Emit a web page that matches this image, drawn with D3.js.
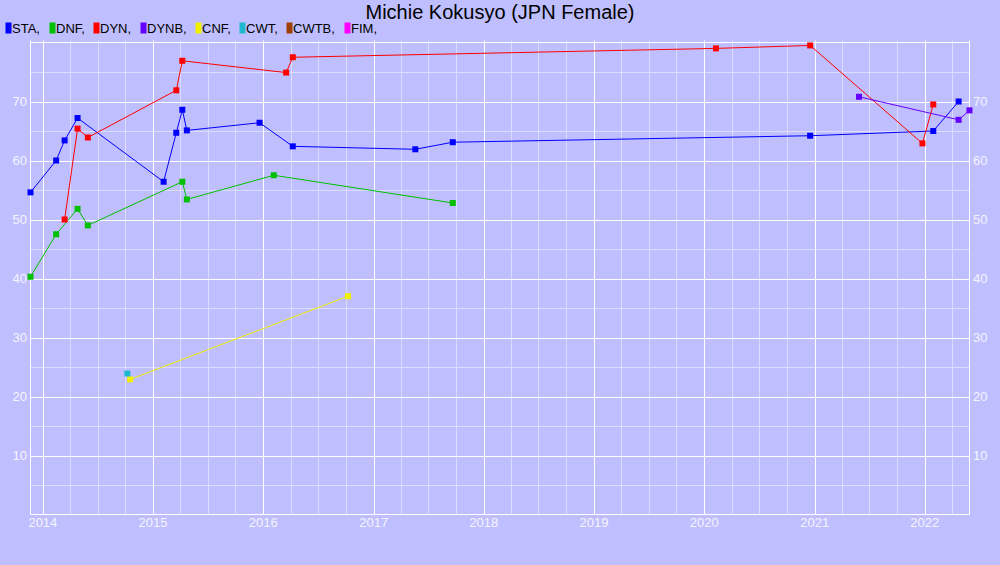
<!DOCTYPE html>
<html><head><meta charset="utf-8">
<script src="https://cdn.jsdelivr.net/npm/d3@7"></script>
<style>body{margin:0;background:#bfbfff;}svg{display:block;font-family:"Liberation Sans",Arial,sans-serif;}</style>
</head><body><svg id="c" width="1000" height="565"></svg>
<script>
const title = "Michie Kokusyo (JPN Female)";
const legendNames = ["STA","DNF","DYN","DYNB","CNF","CWT","CWTB","FIM"];
const legendColors = ["#0000ff","#00c000","#ff0000","#6600ff","#f0f000","#20b8d0","#a04000","#ff00ff"];
const yTicks = [10,20,30,40,50,60,70];

const STA = [["2013-11-21",54.6],["2014-02-14",60.0],["2014-03-14",63.4],["2014-04-26",67.2],["2015-02-05",56.4],["2015-03-19",64.7],["2015-04-08",68.6],["2015-04-23",65.1],["2015-12-20",66.4],["2016-04-08",62.4],["2017-05-19",61.9],["2017-09-20",63.1],["2020-12-17",64.2],["2022-01-29",65.0],["2022-04-23",70.0]];
const DNF = [["2013-11-21",40.3],["2014-02-14",47.5],["2014-04-26",51.8],["2014-05-30",49.0],["2015-04-08",56.4],["2015-04-23",53.4],["2016-02-05",57.5],["2017-09-20",52.8]];
const DYN = [["2014-03-14",50.0],["2014-04-26",65.4],["2014-05-30",63.9],["2015-03-19",71.9],["2015-04-08",76.9],["2016-03-17",74.9],["2016-04-08",77.5],["2020-02-09",79.0],["2020-12-17",79.5],["2021-12-24",62.9],["2022-01-29",69.5]];
const DYNB = [["2021-05-28",70.8],["2022-04-23",66.9],["2022-05-29",68.5]];
const CNF = [["2014-10-17",22.9],["2016-10-08",37.0]];
const CWT = [["2014-10-08",23.9]];
const CWTB = [];
const FIM = [];

const seriesData = [STA,DNF,DYN,DYNB,CNF,CWT,CWTB,FIM];
const parse = d3.timeParse("%Y-%m-%d");
const series = seriesData.map((arr,i)=>({name:legendNames[i],color:legendColors[i],pts:arr.map(d=>({t:parse(d[0]),v:d[1]}))}));
const all = series.flatMap(s=>s.pts);

const svg = d3.select("#c");
const L=30.5,R=969.5,T=42.5,B=514.5;
const x = d3.scaleTime().domain(d3.extent(all,d=>d.t)).range([L,R]);
const y = d3.scaleLinear().domain([0,80]).range([B,T]);

svg.append("rect").attr("width",1000).attr("height",565).attr("fill","#bfbfff");

const g = svg.append("g");
const quarters = d3.timeMonth.every(3).range(x.domain()[0], x.domain()[1]).filter(d=>d.getMonth()!==0);
g.selectAll(".mx").data(quarters).join("line")
  .attr("x1",d=>Math.round(x(d))+0.5).attr("x2",d=>Math.round(x(d))+0.5)
  .attr("y1",T-2).attr("y2",B).attr("stroke","#dcdcff").attr("stroke-width",1);
const minorY = d3.range(5,80,10);
g.selectAll(".my").data(minorY).join("line")
  .attr("x1",L).attr("x2",R).attr("y1",d=>Math.round(y(d))+0.5).attr("y2",d=>Math.round(y(d))+0.5)
  .attr("stroke","#dcdcff");
const years = d3.timeYear.range(x.domain()[0], x.domain()[1]);
g.selectAll(".Mx").data(years).join("line")
  .attr("x1",d=>Math.round(x(d))+0.5).attr("x2",d=>Math.round(x(d))+0.5)
  .attr("y1",T-2).attr("y2",B).attr("stroke","#ffffff");
g.selectAll(".My").data(yTicks).join("line")
  .attr("x1",L).attr("x2",R).attr("y1",d=>Math.round(y(d))+0.5).attr("y2",d=>Math.round(y(d))+0.5)
  .attr("stroke","#ffffff");
g.append("line").attr("x1",L).attr("x2",R).attr("y1",T).attr("y2",T).attr("stroke","#fff");
g.append("line").attr("x1",L).attr("x2",R).attr("y1",B).attr("y2",B).attr("stroke","#fff");
g.append("line").attr("x1",L).attr("x2",L).attr("y1",T-2).attr("y2",B).attr("stroke","#fff");
g.append("line").attr("x1",R).attr("x2",R).attr("y1",T-2).attr("y2",B).attr("stroke","#fff");

const lab = "#f4f4ff";
g.selectAll(".yl").data(yTicks).join("text")
  .attr("x",27).attr("y",d=>y(d)).attr("dy","0.35em").attr("text-anchor","end")
  .attr("font-size",13).attr("fill",lab).text(d=>d);
g.selectAll(".yr").data(yTicks).join("text")
  .attr("x",973).attr("y",d=>y(d)).attr("dy","0.35em").attr("text-anchor","start")
  .attr("font-size",13).attr("fill",lab).text(d=>d);
g.selectAll(".xl").data(years).join("text")
  .attr("x",d=>x(d)).attr("y",527).attr("text-anchor","middle")
  .attr("font-size",13).attr("fill",lab).text(d3.timeFormat("%Y"));

const line = d3.line().x(d=>x(d.t)).y(d=>y(d.v));
series.forEach(s=>{
  if(s.pts.length>1) svg.append("path").attr("d",line(s.pts)).attr("fill","none").attr("stroke",s.color).attr("stroke-width",1);
  svg.selectAll(null).data(s.pts).join("rect")
    .attr("x",d=>x(d.t)-3).attr("y",d=>y(d.v)-3).attr("width",6).attr("height",6).attr("fill",s.color);
});

svg.append("text").attr("x",500).attr("y",19).attr("text-anchor","middle").attr("font-size",20).attr("fill","#000").text(title);
const legX = [5,49,93,140,195,239,286,344];
const lg = svg.selectAll(".lg").data(legendNames).join("g").attr("transform",(d,i)=>`translate(${legX[i]},0)`);
lg.append("rect").attr("x",0.5).attr("y",22.5).attr("width",6).attr("height",11).attr("fill",(d,i)=>legendColors[i]);
lg.append("text").attr("x",7).attr("y",32.5).attr("font-size",13).attr("fill","#000").text(d=>d+",");
</script></body></html>
